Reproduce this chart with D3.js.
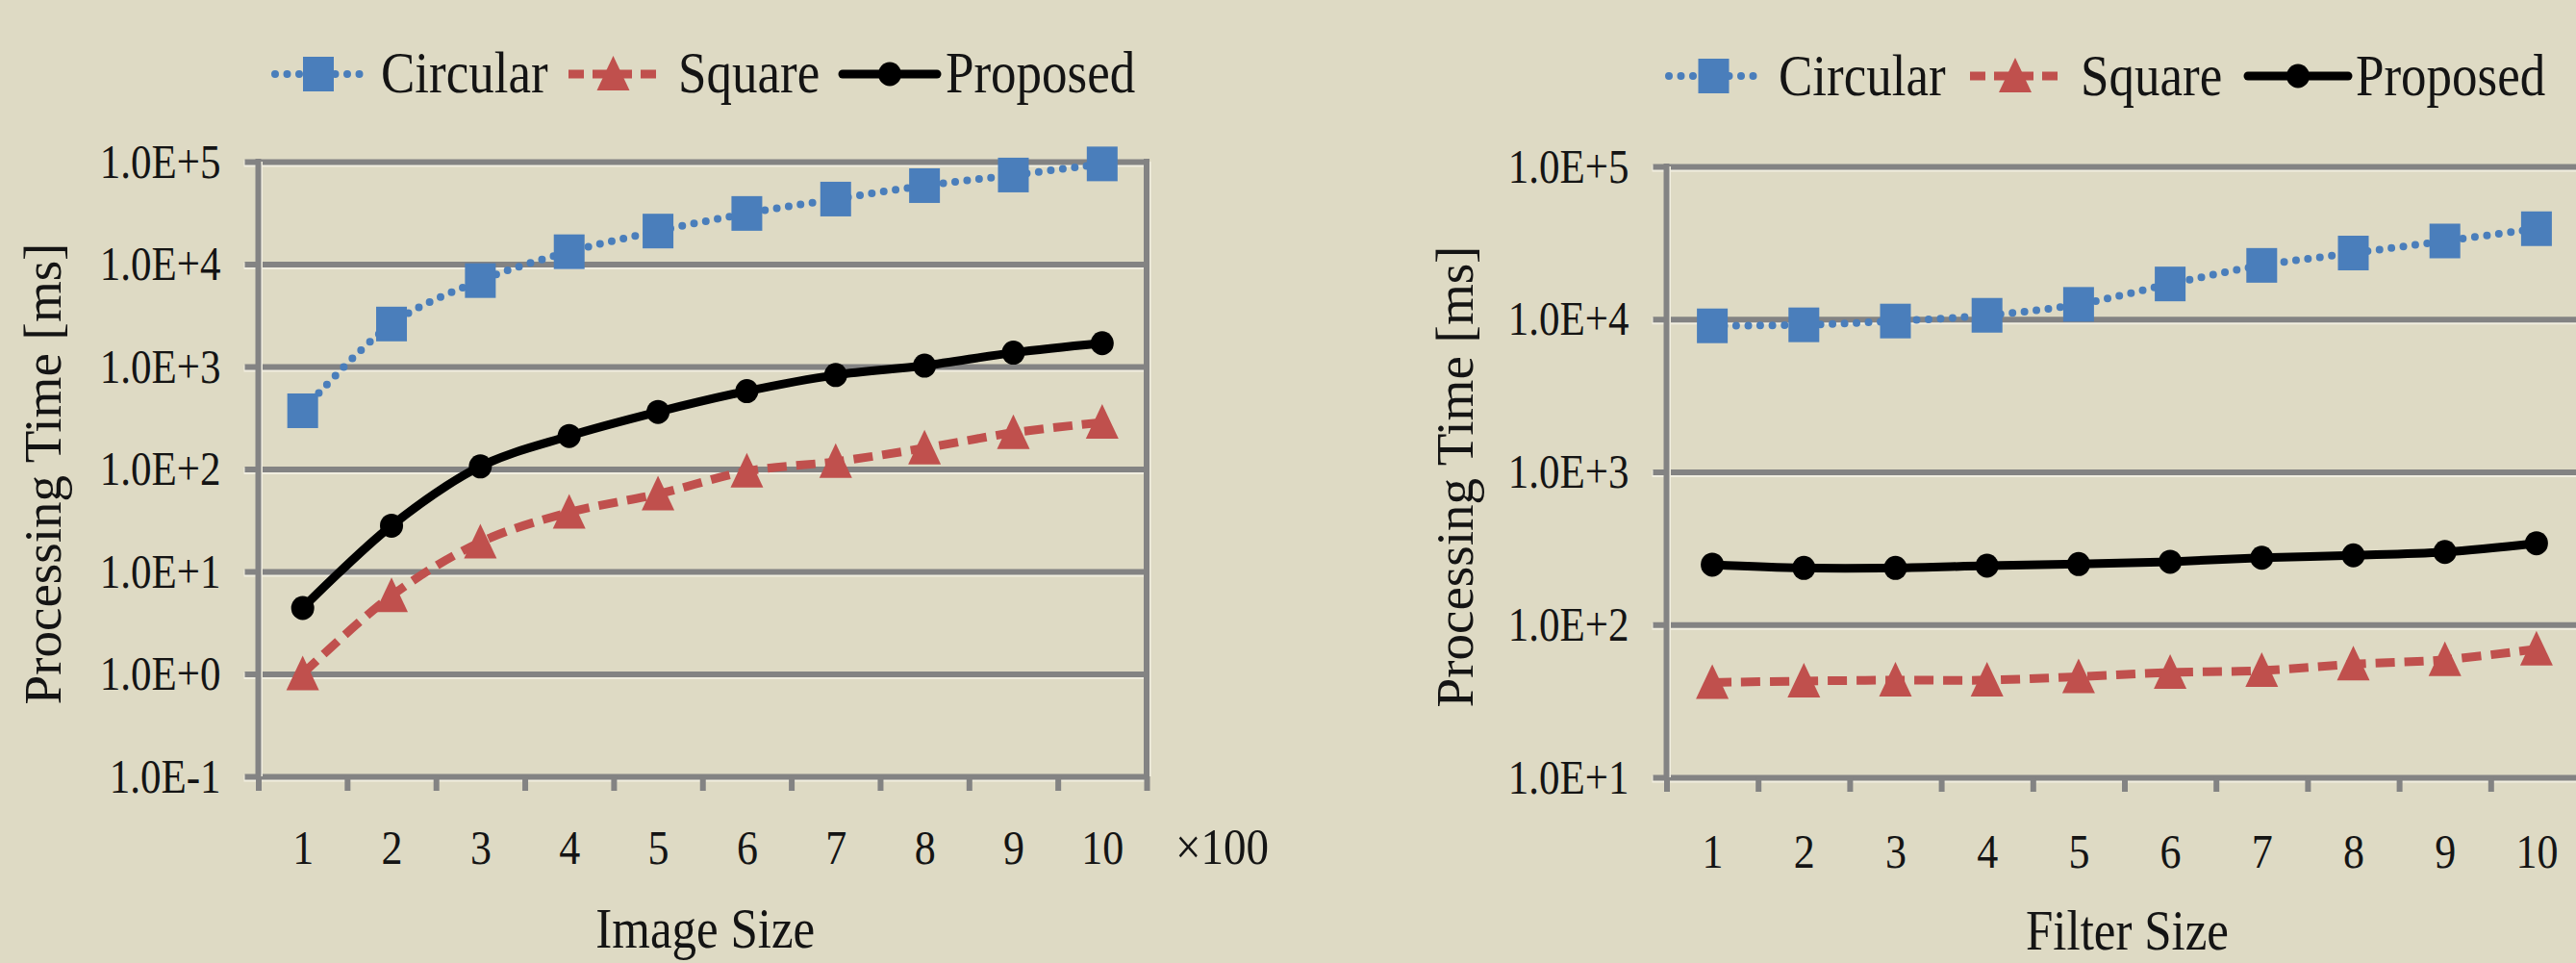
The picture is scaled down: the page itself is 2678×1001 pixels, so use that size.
<!DOCTYPE html>
<html>
<head>
<meta charset="utf-8">
<script src="https://cdn.jsdelivr.net/npm/d3@7"></script>
<style>
  body { margin: 0; background: #dedac4; overflow: hidden; }
  svg { display: block; }
  text { font-family: "Liberation Serif", "Times New Roman", serif; fill: #141414; }
</style>
</head>
<body>
<script>
// categories on the x axis (same for both panels)
const categories = [1, 2, 3, 4, 5, 6, 7, 8, 9, 10];

// left panel: processing time vs image size (x100)
const imgCircular = [370, 2600, 6900, 13200, 21000, 31200, 43100, 58300, 74000, 95000];
const imgSquare   = [1.0, 5.8, 19.3, 37.7, 57, 95, 118, 160, 226, 285];
const imgProposed = [4.4, 28, 106, 210, 361, 575, 826, 1020, 1365, 1690];
const imgYTicks   = [1e-1, 1e0, 1e1, 1e2, 1e3, 1e4, 1e5];
const imgYLabels  = ["1.0E-1", "1.0E+0", "1.0E+1", "1.0E+2", "1.0E+3", "1.0E+4", "1.0E+5"];

// right panel: processing time vs filter size
const filtCircular = [9040, 9180, 9720, 10600, 12500, 17000, 22500, 27100, 32500, 39100];
const filtSquare   = [41.8, 42.7, 43.3, 43.3, 45.6, 48.6, 50.0, 55.1, 58.9, 69.2];
const filtProposed = [247, 235, 235, 243, 249, 258, 274, 284, 299, 341];
const filtYTicks   = [1e1, 1e2, 1e3, 1e4, 1e5];
const filtYLabels  = ["1.0E+1", "1.0E+2", "1.0E+3", "1.0E+4", "1.0E+5"];

const seriesNames = ["Circular", "Square", "Proposed"];

const W = 2678, H = 1001;
const GRID = "#838383", HALO = "#f1eee0";
const SY = 1.14; // the original figure is a bit stretched vertically

const svg = d3.select("body").append("svg").attr("width", W).attr("height", H);
svg.append("rect").attr("width", W).attr("height", H).attr("fill", "#dedac4");

function label(parent, x, y, str, size, anchor, extra) {
    return parent.append("text")
        .attr("transform", `translate(${x},${y}) ${extra || `scale(1,${SY})`}`)
        .attr("font-size", size)
        .attr("text-anchor", anchor || "start")
        .text(str);
}

function marker(sel, kind, color) {
    if (kind === 0) {
        sel.append("rect").attr("x", -16).attr("y", -18).attr("width", 32).attr("height", 36)
            .attr("fill", color);
    } else if (kind === 1) {
        sel.append("path").attr("d", "M0,-19L17,17L-17,17Z").attr("fill", color);
    } else {
        sel.append("ellipse").attr("rx", 12).attr("ry", 12.5).attr("fill", color);
    }
}

const styles = [
    { color: "#4a7ebb", width: 8, dash: "0 12.5", cap: "round" },
    { color: "#c0504d", width: 9, dash: "20 10", cap: "butt" },
    { color: "#000000", width: 9, dash: null, cap: "round" }
];

function panel(p) {
    const x = d3.scaleLinear().domain([0.5, 10.5]).range([p.left, p.right]);
    const y = d3.scaleLog().domain(p.yDomain).range([p.bottom, p.top]);
    const g = svg.append("g");

    // horizontal gridlines + y tick labels
    const ya = g.append("g").attr("transform", `translate(${p.left},0)`)
        .call(d3.axisLeft(y).tickValues(p.yTicks).tickSize(14).tickPadding(25)
            .tickFormat((d, i) => p.yLabels[i]));
    ya.attr("font-size", null).attr("font-family", null);
    ya.select(".domain").remove();
    ya.selectAll(".tick").insert("line", ":first-child")
        .attr("x1", -15).attr("x2", p.right - p.left + 2)
        .attr("y1", 1.5).attr("y2", 1.5)
        .attr("stroke", HALO).attr("stroke-width", 7);
    ya.selectAll(".tick line:last-of-type")
        .attr("x1", -14).attr("x2", p.right - p.left)
        .attr("stroke", GRID).attr("stroke-width", 6);
    ya.selectAll(".tick text")
        .attr("font-size", 43)
        .attr("fill", "#141414")
        .attr("transform", "scale(1,1.17)");

    // vertical axis and right border
    [p.left, p.right].forEach(xx => {
        g.append("line").attr("x1", xx + 1.5).attr("x2", xx + 1.5)
            .attr("y1", p.top).attr("y2", p.bottom)
            .attr("stroke", HALO).attr("stroke-width", 6);
        g.append("line").attr("x1", xx).attr("x2", xx)
            .attr("y1", p.top - 3).attr("y2", p.bottom)
            .attr("stroke", GRID).attr("stroke-width", 6);
    });

    // x tick marks between categories
    const bounds = d3.range(0.5, 11, 1);
    const xt = g.append("g").attr("transform", `translate(0,${p.bottom})`)
        .call(d3.axisBottom(x).tickValues(bounds).tickSize(15).tickFormat(""));
    xt.select(".domain").remove();
    xt.selectAll(".tick line").attr("stroke", GRID).attr("stroke-width", 6);

    // x category labels
    const xl = g.append("g").attr("transform", `translate(0,${p.bottom})`)
        .call(d3.axisBottom(x).tickValues(categories).tickSize(0));
    xl.attr("font-size", null).attr("font-family", null);
    xl.select(".domain").remove();
    xl.selectAll(".tick text")
        .attr("font-size", 44)
        .attr("fill", "#141414")
        .attr("y", p.xLabelOffset / 1.17)
        .attr("dy", "0.35em")
        .attr("transform", "scale(1,1.17)");

    // series
    const line = d3.line()
        .x((d, i) => x(categories[i]))
        .y(d => y(d))
        .curve(d3.curveCatmullRom.alpha(0.5));

    p.series.forEach((vals, k) => {
        const s = styles[k];
        g.append("path").datum(vals)
            .attr("d", line)
            .attr("fill", "none")
            .attr("stroke", s.color)
            .attr("stroke-width", s.width)
            .attr("stroke-linecap", s.cap)
            .attr("stroke-linejoin", "round")
            .attr("stroke-dasharray", s.dash);
        g.append("g").selectAll("g").data(vals).join("g")
            .attr("transform", (d, i) => `translate(${x(categories[i])},${y(d)})`)
            .each(function () { marker(d3.select(this), k, s.color); });
    });

    // legend
    p.legend.forEach((L, k) => {
        const s = styles[k];
        g.append("line").attr("x1", L[0]).attr("x2", L[1])
            .attr("y1", p.legendY).attr("y2", p.legendY)
            .attr("stroke", s.color).attr("stroke-width", s.width)
            .attr("stroke-linecap", s.cap)
            .attr("stroke-dasharray", k === 1 ? "16 9" : s.dash);
        const mg = g.append("g").attr("transform", `translate(${(L[0] + L[1]) / 2},${p.legendY})`);
        marker(mg, k, s.color);
        label(g, L[2], p.legendBase, seriesNames[k], 53);
    });

    // axis titles
    label(g, p.yTitleX, (p.top + p.bottom) / 2 + 5, "Processing Time [ms]", 55, "middle", "rotate(-90)");
    label(g, (p.left + p.right) / 2 + p.xTitleShift, p.xTitleBase, p.xTitle, 51, "middle");
    if (p.unit) label(g, p.right + 30, 898, p.unit, 47);
}

panel({
    left: 268.5, right: 1192, top: 168, bottom: 807,
    yDomain: [1e-1, 1e5], yTicks: imgYTicks, yLabels: imgYLabels,
    series: [imgCircular, imgSquare, imgProposed],
    xLabelOffset: 73,
    legend: [[286, 376, 396], [591, 684, 705], [876, 974, 983]],
    legendY: 77, legendBase: 96,
    yTitleX: 63, xTitle: "Image  Size", xTitleShift: 3, xTitleBase: 985,
    unit: "×100"
});

panel({
    left: 1732.5, right: 2684.5, top: 173, bottom: 808,
    yDomain: [1e1, 1e5], yTicks: filtYTicks, yLabels: filtYLabels,
    series: [filtCircular, filtSquare, filtProposed],
    xLabelOffset: 76,
    legend: [[1735, 1828, 1849], [2048, 2142, 2163], [2337, 2441, 2449]],
    legendY: 79, legendBase: 99,
    yTitleX: 1531, xTitle: "Filter Size", xTitleShift: 3, xTitleBase: 987
});
</script>
</body>
</html>
